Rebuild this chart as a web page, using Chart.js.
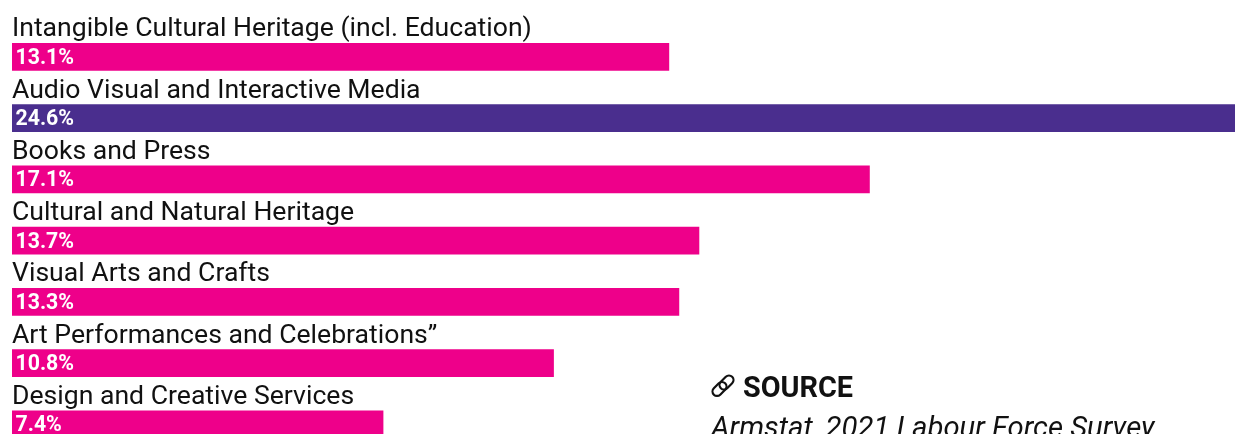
<!DOCTYPE html>
<html>
<head>
<meta charset="utf-8">
<title>Employment by cultural domain</title>
<script src="https://cdn.jsdelivr.net/npm/chart.js@4"></script>
<style>
	html, body {margin:0; padding:0; background:#fff; overflow:hidden;}
	#wrap {position:relative; width:1235px; height:434px; overflow:hidden; font-family:Roboto, sans-serif;}
	#bars {position:absolute; left:0; top:0;}
	#source {position:absolute; left:711px; top:370px; color:#111; white-space:nowrap;}
	#source svg {position:absolute; left:0; top:4px;}
	#source b {position:absolute; left:32px; top:0; font-size:28.8px; line-height:34px;}
	#source i {position:absolute; left:0; top:40px; font-size:29.3px; line-height:34px;}
</style>
</head>
<body>
<div id="wrap">
	<canvas id="bars" width="1235" height="456"></canvas>
	<div id="source">
		<svg width="24" height="24" viewBox="0 0 24 24" fill="none" stroke="#111" stroke-width="2.2">
			<rect x="0.5" y="10.5" width="16" height="9" rx="4.5" transform="rotate(-45 8.5 15)"/>
			<rect x="7.5" y="4" width="16" height="9" rx="4.5" transform="rotate(-45 15.5 8.5)"/>
		</svg>
		<b>SOURCE</b>
		<i>Armstat, 2021 Labour Force Survey</i>
	</div>
</div>
<script>
const domains = [
	"Intangible Cultural Heritage (incl. Education)",
	"Audio Visual and Interactive Media",
	"Books and Press",
	"Cultural and Natural Heritage",
	"Visual Arts and Crafts",
	"Art Performances and Celebrations”",
	"Design and Creative Services"
];
const shares = [13.1, 24.6, 17.1, 13.7, 13.3, 10.8, 7.4];

const PINK = 'rgb(238, 0, 138)';
const PURPLE = 'rgb(74, 46, 142)';
const topShare = Math.max(...shares);

// category name above each bar, value inside it at the left end
const rowLabels = {
	id: 'rowLabels',
	afterDatasetsDraw(chart){
		const {ctx, scales} = chart;
		ctx.save();
		ctx.textAlign = 'left';
		ctx.textBaseline = 'alphabetic';
		domains.forEach((name, i) => {
			let y = scales.y.getPixelForValue(i);
			ctx.fillStyle = '#111';
			ctx.font = '400 26.6px Roboto';
			ctx.fillText(name, 12, y - 20.5);
			ctx.fillStyle = '#fff';
			ctx.font = '700 21.3px Roboto';
			ctx.fillText(shares[i].toFixed(1) + '%', 15.5, y + 7);
		});
		ctx.restore();
	}
};

new Chart(document.getElementById('bars'), {
	type: 'bar',
	data: {
		labels: domains,
		datasets: [{
			data: shares,
			backgroundColor: c => c.raw === topShare ? PURPLE : PINK,
			barThickness: 27
		}]
	},
	options: {
		indexAxis: 'y',
		responsive: false,
		animation: false,
		layout: {padding: {left: 12, right: 0, top: 26.2, bottom: 1.05}},
		plugins: {legend: {display: false}, tooltip: {enabled: false}},
		// the axis stops short of the largest value, so that bar runs off the right edge
		scales: {
			x: {display: false, min: 0, max: 24.39},
			y: {display: false}
		}
	},
	plugins: [rowLabels]
});
</script>
</body>
</html>
